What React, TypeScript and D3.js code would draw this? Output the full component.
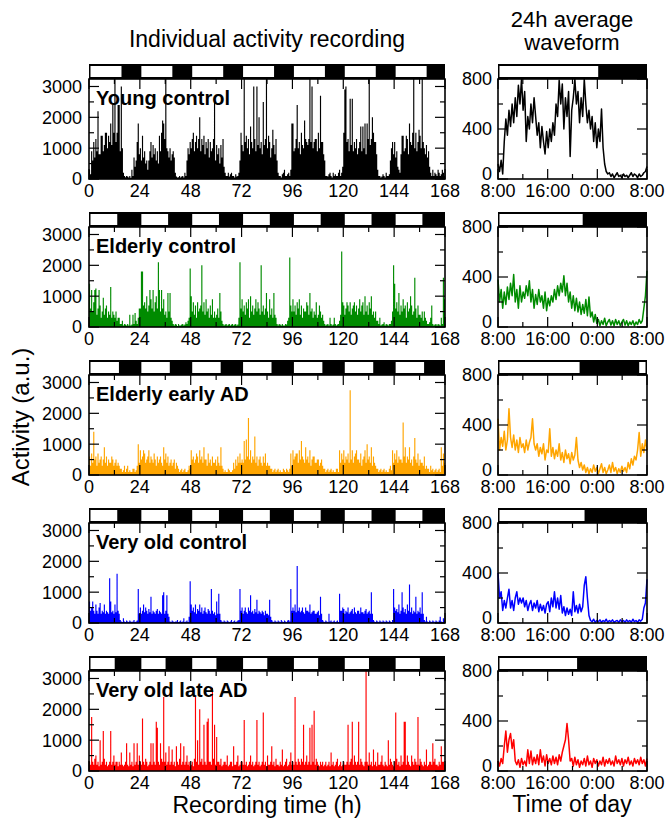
import React from "react";
import * as d3 from "d3";

const FONT = "'Liberation Sans', Arial, Helvetica, sans-serif";

const subjects = ["Young control", "Elderly control", "Elderly early AD", "Very old control", "Very old late AD"];
const seriesColors = ["#000000", "#008b00", "#ffa500", "#0000ff", "#ff0000"];

const recXTicks = [0, 24, 48, 72, 96, 120, 144, 168];
const recXMinor = [12, 36, 60, 84, 108, 132, 156];
const recYTicks = [0, 1000, 2000, 3000];
const recYMinor = [500, 1500, 2500];
const waveXTicks = [0, 8, 16, 24];
const waveXLabels = ["8:00", "16:00", "0:00", "8:00"];
const waveXMinor = [4, 12, 20];
const waveYTicks = [0, 400, 800];
const waveYMinor = [200, 600];

// hours after 8:00 when lights go off (recording bars / waveform bars)
const recLightsOff = [15.8, 13.8, 14.6, 13.8, 12.6];
const waveLightsOff = [16.3, 13.8, 13.3, 14.1, 12.9];
const waveLightsOn = [24, 24, 22.5, 24, 24];

// half-hour activity levels, 168 h recording
const youngRec = [
  300,150, 900,600, 1200,700, 1300,900, 2200,800, 800,1400, 1400,900, 1100,1500, 1500,1000, 1400,1200, 1800,1100, 2400,1500, 3250,1200, 1500,2400, 2400,900, 3000,1000, 200,100, 60,100, 80,50, 100,40, 300,100, 700,400, 600,1200, 1800,800,
  1000,600, 1400,700, 900,500, 600,300, 600,900, 1200,700, 1100,800, 1000,600, 900,500, 1400,900, 1500,1900, 1800,1300, 3250,1000, 900,700, 1000,600, 800,900, 700,200, 80,50, 60,100, 50,80, 100,50, 200,100, 600,1000, 800,1200,
  1000,1300, 1500,900, 1200,1400, 1000,1300, 2000,900, 1300,1100, 1400,800, 1200,1000, 1300,700, 1200,900, 1000,1300, 2500,600, 1100,800, 1000,500, 1100,700, 1300,400, 200,100, 100,200, 80,150, 200,100, 100,50, 150,80, 100,200, 600,1500,
  1100,900, 3250,1200, 1400,1000, 1300,800, 1700,1200, 1000,3000, 1300,900, 3000,1100, 2000,1000, 1200,800, 2500,1100, 1300,3250, 1000,1400, 1200,700, 1000,1600, 1100,800, 1300,600, 200,100, 100,50, 150,200, 300,100, 100,150, 200,100, 300,1800,
  1800,900, 1000,1300, 2400,1000, 1200,800, 1500,1100, 1000,1900, 1300,1200, 1100,1300, 3250,1200, 3000,1000, 1200,1300, 1300,900, 1500,1000, 2700,1200, 1200,800, 600,100, 100,80, 150,200, 100,50, 200,100, 150,100, 100,200, 300,100, 200,400,
  1500,2900, 3000,1200, 1300,900, 2600,1100, 2600,900, 1200,1000, 1300,800, 1000,1200, 1700,900, 1700,1000, 1800,800, 1800,1300, 3250,1100, 1300,2000, 1500,1200, 1200,800, 300,100, 100,50, 80,150, 100,50, 200,100, 100,150, 600,1000, 1200,800,
  1200,700, 900,400, 300,200, 800,1400, 1400,900, 1000,1400, 1300,800, 1800,1200, 1100,1500, 3250,1000, 1500,900, 1200,1600, 1400,1000, 3250,1200, 1000,800, 1100,700, 900,400, 200,100, 300,100, 200,150, 100,300, 200,100, 150,300, 200,100,
];

const elderlyRec = [
  1400,600, 1200,500, 800,1200, 1250,400, 600,1200, 700,300, 500,950, 400,600, 700,300, 500,400, 1300,300, 500,400, 300,500, 200,300, 300,100, 100,200, 50,100, 80,50, 100,50, 400,50, 80,400, 100,450, 200,100, 300,600,
  600,1800, 1800,700, 800,600, 1000,500, 700,1200, 900,600, 1200,500, 800,1000, 600,2100, 1200,500, 1200,600, 900,400, 500,300, 1100,500, 1100,300, 200,100, 50,100, 80,30, 100,50, 50,80, 100,50, 80,150, 100,200, 300,1900,
  1000,500, 800,400, 700,300, 800,500, 600,700, 2000,500, 800,400, 900,500, 600,300, 700,400, 900,300, 500,300, 400,600, 300,1100, 500,200, 100,50, 80,100, 50,80, 100,50, 80,100, 50,80, 100,50, 80,300, 2100,600,
  900,500, 700,400, 800,600, 900,300, 1000,500, 700,400, 600,900, 500,800, 600,400, 2000,500, 700,400, 600,1100, 500,300, 900,400, 600,300, 1100,400, 300,100, 50,100, 80,50, 100,50, 50,100, 80,200, 300,2250, 700,500,
  900,500, 700,400, 800,600, 900,400, 700,300, 600,500, 500,800, 700,400, 1100,500, 600,300, 500,400, 800,300, 400,700, 500,300, 400,200, 100,50, 80,100, 50,300, 100,50, 80,300, 100,50, 80,100, 200,400, 2450,800,
  700,400, 600,800, 700,500, 800,400, 600,700, 800,500, 700,400, 600,900, 500,700, 800,400, 1000,500, 700,400, 800,600, 1000,400, 500,300, 500,200, 200,100, 300,50, 80,100, 150,50, 100,80, 50,100, 100,200, 500,2000,
  1400,600, 800,500, 1100,400, 700,500, 900,600, 700,300, 800,500, 600,1000, 700,400, 500,1600, 600,300, 700,400, 400,300, 500,200, 500,300, 200,100, 100,150, 300,700, 100,50, 80,100, 50,100, 80,50, 300,100, 1600,900,
];

const earlyADRec = [
  600,300, 700,400, 1400,500, 600,300, 700,400, 500,600, 300,500, 900,400, 600,300, 500,400, 400,600, 500,300, 400,500, 300,400, 300,200, 200,100, 150,300, 100,200, 300,100, 150,100, 100,200, 200,100, 150,300, 1000,400,
  800,500, 600,800, 700,400, 500,600, 800,400, 600,500, 400,700, 500,300, 600,400, 500,600, 400,300, 900,500, 700,400, 600,300, 400,500, 300,400, 500,200, 400,300, 200,100, 150,200, 100,150, 200,100, 100,150, 300,200,
  800,500, 600,400, 500,700, 600,400, 800,500, 600,400, 900,500, 500,300, 700,400, 500,300, 600,400, 400,500, 300,600, 400,300, 900,300, 200,100, 150,100, 100,200, 150,100, 100,150, 400,200, 500,300, 600,400, 700,400,
  500,400, 1100,500, 1150,600, 1850,500, 800,400, 600,500, 1250,400, 600,300, 500,600, 400,300, 600,400, 700,300, 400,300, 300,200, 200,100, 150,200, 100,150, 200,100, 150,100, 100,200, 150,100, 200,150, 100,200, 700,300,
  800,500, 600,700, 700,400, 800,500, 1100,600, 500,400, 900,500, 600,400, 800,300, 500,600, 600,400, 400,500, 500,300, 400,500, 300,200, 200,100, 150,200, 100,150, 200,100, 150,100, 100,200, 200,100, 800,400, 700,500,
  800,400, 600,500, 700,400, 2750,500, 800,400, 600,700, 800,500, 500,400, 700,300, 500,600, 800,400, 1000,500, 600,400, 900,300, 600,400, 300,200, 200,100, 150,200, 100,150, 200,100, 150,100, 100,200, 300,150, 800,400,
  700,500, 800,400, 600,500, 500,400, 1700,600, 900,400, 600,500, 900,400, 500,300, 600,1200, 500,400, 700,300, 500,400, 400,300, 600,200, 300,200, 200,100, 300,150, 200,100, 150,200, 100,150, 200,100, 900,300, 700,400,
];

const veryOldRec = [
  700,400, 500,700, 400,300, 600,400, 300,500, 650,300, 400,350, 600,300, 400,350, 300,1450, 700,350, 400,300, 600,350, 1600,400, 300,100, 50,30, 150,50, 30,80, 50,30, 80,50, 30,50, 100,30, 50,80, 1100,300,
  500,300, 400,600, 350,500, 400,300, 450,350, 850,300, 400,350, 300,400, 450,300, 400,350, 300,900, 1000,300, 400,900, 300,200, 50,30, 80,50, 30,50, 50,100, 30,50, 80,30, 50,150, 30,50, 80,30, 200,1350,
  600,400, 500,350, 600,300, 450,400, 600,350, 500,300, 400,500, 350,300, 450,400, 300,1100, 400,300, 350,250, 700,300, 950,300, 100,50, 30,80, 50,30, 80,50, 30,50, 100,30, 50,80, 30,50, 80,100, 1100,400,
  500,300, 400,500, 350,300, 500,400, 900,350, 400,300, 450,350, 750,300, 400,350, 300,400, 350,250, 400,300, 300,250, 750,200, 100,50, 30,80, 50,30, 80,50, 30,100, 50,30, 80,50, 30,80, 100,50, 1100,400,
  500,400, 600,350, 1850,400, 500,350, 400,500, 350,300, 500,400, 400,350, 600,300, 350,400, 400,300, 300,350, 400,250, 850,300, 100,50, 30,80, 50,30, 300,50, 80,30, 50,80, 30,50, 80,30, 950,400, 400,500,
  450,300, 400,350, 500,300, 350,400, 450,300, 500,350, 300,400, 400,300, 500,350, 350,300, 400,450, 300,350, 400,300, 1000,300, 100,50, 30,80, 50,30, 80,50, 30,80, 50,30, 80,50, 30,80, 50,30, 100,1100,
  500,400, 450,350, 600,300, 400,1000, 500,350, 450,300, 600,400, 1250,350, 500,300, 400,350, 850,300, 400,350, 500,300, 1000,300, 100,50, 200,50, 30,80, 50,30, 80,50, 30,80, 50,30, 80,200, 50,30, 150,80,
];

const lateADRec = [
  300,200, 1750,300, 200,400, 500,200, 300,150, 1000,200, 300,1300, 400,200, 300,150, 200,300, 1300,200, 300,500, 200,300, 300,150, 300,200, 600,200, 150,200, 300,900, 200,150, 600,200, 300,150, 900,200, 300,900, 200,500,
  300,200, 1700,300, 200,400, 300,150, 200,300, 900,200, 900,300, 200,1600, 1400,300, 200,900, 400,300, 2400,300, 600,200, 300,800, 200,300, 700,200, 300,150, 800,300, 200,400, 900,200, 300,800, 200,300, 500,200, 300,150,
  200,300, 150,400, 2400,300, 1000,200, 2000,300, 400,200, 1500,300, 200,1600, 1700,300, 300,200, 2700,400, 1500,200, 1100,300, 300,200, 400,150, 200,300, 300,200, 500,150, 200,300, 300,150, 800,200, 200,300, 500,150, 200,300,
  300,200, 1650,200, 300,150, 200,300, 500,200, 300,150, 200,300, 1650,200, 300,150, 200,300, 1900,200, 300,150, 500,200, 200,300, 800,200, 300,150, 400,200, 200,150, 300,200, 700,150, 200,300, 400,150, 200,300, 600,200,
  300,200, 2400,300, 200,400, 300,200, 400,300, 1500,200, 300,500, 200,300, 1400,200, 1500,300, 1950,200, 400,300, 200,150, 300,200, 300,150, 200,300, 150,200, 300,150, 600,200, 300,150, 200,300, 400,150, 200,300, 150,200,
  300,200, 200,300, 1500,200, 300,400, 1600,200, 500,300, 200,300, 1600,200, 400,300, 200,150, 300,3250, 300,200, 600,200, 300,150, 700,200, 300,150, 600,200, 200,300, 500,200, 150,300, 200,150, 1000,200, 400,300, 200,150,
  300,1900, 400,200, 300,150, 500,200, 300,1600, 1600,200, 500,300, 200,150, 500,300, 200,400, 300,200, 1750,200, 400,300, 200,150, 300,200, 700,150, 200,300, 300,200, 900,300, 400,200, 200,150, 300,200, 800,300, 300,200,
];

// quarter-hour 24 h average waveforms, starting 8:00
const youngWave = [
  120,60,150,40, 300,480,350,550, 420,600,450,650, 500,750,600,800, 550,700,300,500, 400,600,450,650,
  500,350,450,250, 420,300,200,380, 250,400,300,450, 350,600,500,790, 600,760,400,650, 500,700,180,550,
  650,800,600,700, 450,650,500,800, 600,450,550,400, 500,300,450,250, 400,300,560,250, 120,60,40,50,
  20,40,10,30, 50,20,30,10, 40,20,30,10, 30,50,20,40, 30,10,40,20, 30,50,60,100,
];
const elderlyWave = [
  380,200,300,150, 280,180,320,220, 350,250,420,200, 300,150,330,200, 280,230,330,250, 370,200,300,150,
  260,180,300,200, 250,150,280,130, 230,170,250,200, 300,220,330,250, 350,280,410,250, 350,200,280,150,
  250,130,230,120, 200,100,180,110, 220,90,240,80, 120,40,100,30, 60,10,50,20, 70,10,40,60,
  15,50,10,60, 20,50,10,40, 60,15,50,10, 40,20,50,10, 40,20,60,30, 50,150,250,450,
];
const earlyADWave = [
  450,200,300,230, 350,200,280,530, 300,220,320,200, 280,180,300,220, 250,180,280,200, 260,300,450,250,
  200,250,150,220, 170,250,120,200, 180,370,150,220, 130,200,150,250, 120,180,100,200, 130,170,90,180,
  120,160,300,120, 60,100,40,80, 20,60,10,50, 20,80,30,60, 10,50,90,20, 60,10,40,80,
  20,100,30,60, 10,50,20,70, 30,60,20,100, 50,130,80,150, 120,200,340,150, 250,180,280,200,
];
const veryOldWave = [
  400,200,250,100, 180,120,200,270, 120,180,100,200, 250,150,200,160, 200,130,180,100, 150,180,100,160,
  120,180,90,150, 100,140,80,150, 170,90,200,130, 250,120,200,110, 220,80,130,60, 120,70,110,60,
  250,90,140,80, 150,90,130,300, 370,200,60,20, 10,30,5,20, 10,25,5,20, 10,30,5,20,
  10,25,5,15, 20,5,25,10, 20,5,25,10, 20,5,30,10, 20,5,25,15, 30,120,160,350,
];
const lateADWave = [
  80,40,100,60, 200,320,150,250, 300,180,250,80, 50,90,30,100, 50,80,40,170, 60,160,50,110,
  60,130,50,170, 70,120,40,130, 60,100,50,120, 60,110,50,130, 80,150,200,250, 380,250,80,100,
  40,110,50,90, 30,80,50,100, 40,120,50,80, 30,100,60,90, 40,80,50,110, 40,90,60,100,
  50,80,40,120, 60,90,50,100, 40,90,60,110, 50,80,40,100, 60,90,50,110, 60,90,40,100,
];

const recSeries = [youngRec, elderlyRec, earlyADRec, veryOldRec, lateADRec];
const waveSeries = [youngWave, elderlyWave, earlyADWave, veryOldWave, lateADWave];

const LX0 = 89, LX1 = 445, RX0 = 498, RX1 = 647;
const TOP0 = 64, STEP = 148, BAR_H = 15, PLOT_H = 100;
const REC_MAX = 3243;

export default function App() {
  const xRec = d3.scaleLinear().domain([0, 168]).range([LX0, LX1]);
  const xWave = d3.scaleLinear().domain([0, 24]).range([RX0, RX1]);
  const major = 10, minor = 5;

  return (
    <svg width={665} height={821} style={{ position: "absolute", left: 0, top: 0, background: "#fff" }} fontFamily={FONT}>
      <text x={267} y={47} fontSize={23} textAnchor="middle">Individual activity recording</text>
      <text x={572} y={27} fontSize={22} textAnchor="middle">24h average</text>
      <text x={572} y={50} fontSize={22} textAnchor="middle">waveform</text>

      {subjects.map((name, i) => {
        const barTop = TOP0 + STEP * i;
        const pTop = barTop + BAR_H;
        const pBot = pTop + PLOT_H;
        const yRec = d3.scaleLinear().domain([0, REC_MAX]).range([pBot, pTop]);
        const yWave = d3.scaleLinear().domain([0, 800]).range([pBot, pTop]);
        const rec = recSeries[i];
        const dt = 168 / rec.length;
        const spikes = rec
          .map((v, k) => `M${xRec(k * dt + dt / 2).toFixed(2)},${yRec(0)}V${yRec(Math.min(v, REC_MAX)).toFixed(2)}`)
          .join("");
        const wave = waveSeries[i];
        const wline = d3
          .line<number>()
          .x((_, k) => xWave((k * 24) / (wave.length - 1)))
          .y((d) => yWave(d))(wave) as string;
        const color = seriesColors[i];
        const days = d3.range(7);
        const waveWhites: [number, number][] = [[0, waveLightsOff[i]]];
        if (waveLightsOn[i] < 24) waveWhites.push([waveLightsOn[i], 24]);

        return (
          <g key={name}>
            {/* light/dark bar, recording */}
            <rect x={LX0} y={barTop} width={LX1 - LX0} height={BAR_H} fill="#000" />
            {days.map((d) => {
              const a = xRec(d * 24) + 1.5;
              const b = xRec(d * 24 + recLightsOff[i]) - 1;
              return <rect key={d} x={a} y={barTop + 2} width={b - a} height={BAR_H - 4} fill="#fff" />;
            })}
            {/* light/dark bar, waveform */}
            <rect x={RX0} y={barTop} width={RX1 - RX0} height={BAR_H} fill="#000" />
            {waveWhites.map(([s, e], k) => {
              const a = xWave(s) + 1.5;
              const b = xWave(e) - (e >= 24 ? 1.5 : 1);
              return <rect key={k} x={a} y={barTop + 2} width={b - a} height={BAR_H - 4} fill="#fff" />;
            })}

            {/* data */}
            <path d={spikes} stroke={color} strokeWidth={1.15} fill="none" />
            <path d={wline} stroke={color} strokeWidth={1.5} fill="none" strokeLinejoin="round" />

            {/* recording ticks */}
            {recYTicks.map((t) => (
              <g key={"ry" + t}>
                <line x1={LX0} x2={LX0 + major} y1={yRec(t)} y2={yRec(t)} stroke="#000" strokeWidth={1.2} />
                <line x1={LX1 - major} x2={LX1} y1={yRec(t)} y2={yRec(t)} stroke="#000" strokeWidth={1.2} />
                <text x={LX0 - 7} y={yRec(t)} dy="0.36em" fontSize={18} textAnchor="end">{t}</text>
              </g>
            ))}
            {recYMinor.map((t) => (
              <g key={"rym" + t}>
                <line x1={LX0} x2={LX0 + minor} y1={yRec(t)} y2={yRec(t)} stroke="#000" strokeWidth={1.2} />
                <line x1={LX1 - minor} x2={LX1} y1={yRec(t)} y2={yRec(t)} stroke="#000" strokeWidth={1.2} />
              </g>
            ))}
            {recXTicks.map((t) => (
              <g key={"rx" + t}>
                <line x1={xRec(t)} x2={xRec(t)} y1={pBot} y2={pBot - major} stroke="#000" strokeWidth={1.2} />
                <line x1={xRec(t)} x2={xRec(t)} y1={pTop} y2={pTop + major} stroke="#000" strokeWidth={1.2} />
                <text x={xRec(t)} y={pBot + 18} fontSize={18} textAnchor="middle">{t}</text>
              </g>
            ))}
            {recXMinor.map((t) => (
              <g key={"rxm" + t}>
                <line x1={xRec(t)} x2={xRec(t)} y1={pBot} y2={pBot - minor} stroke="#000" strokeWidth={1.2} />
                <line x1={xRec(t)} x2={xRec(t)} y1={pTop} y2={pTop + minor} stroke="#000" strokeWidth={1.2} />
              </g>
            ))}

            {/* waveform ticks */}
            {waveYTicks.map((t) => (
              <g key={"wy" + t}>
                <line x1={RX0} x2={RX0 + major} y1={yWave(t)} y2={yWave(t)} stroke="#000" strokeWidth={1.2} />
                <line x1={RX1 - major} x2={RX1} y1={yWave(t)} y2={yWave(t)} stroke="#000" strokeWidth={1.2} />
                <text x={RX0 - 6} y={yWave(t) - (t === 0 ? 5 : 0)} dy="0.36em" fontSize={18} textAnchor="end">{t}</text>
              </g>
            ))}
            {waveYMinor.map((t) => (
              <g key={"wym" + t}>
                <line x1={RX0} x2={RX0 + minor} y1={yWave(t)} y2={yWave(t)} stroke="#000" strokeWidth={1.2} />
                <line x1={RX1 - minor} x2={RX1} y1={yWave(t)} y2={yWave(t)} stroke="#000" strokeWidth={1.2} />
              </g>
            ))}
            {waveXTicks.map((t, k) => (
              <g key={"wx" + t}>
                <line x1={xWave(t)} x2={xWave(t)} y1={pBot} y2={pBot - major} stroke="#000" strokeWidth={1.2} />
                <line x1={xWave(t)} x2={xWave(t)} y1={pTop} y2={pTop + major} stroke="#000" strokeWidth={1.2} />
                <text x={xWave(t)} y={pBot + 18} fontSize={18} textAnchor="middle">{waveXLabels[k]}</text>
              </g>
            ))}
            {waveXMinor.map((t) => (
              <g key={"wxm" + t}>
                <line x1={xWave(t)} x2={xWave(t)} y1={pBot} y2={pBot - minor} stroke="#000" strokeWidth={1.2} />
                <line x1={xWave(t)} x2={xWave(t)} y1={pTop} y2={pTop + minor} stroke="#000" strokeWidth={1.2} />
              </g>
            ))}

            {/* frames */}
            <rect x={LX0} y={pTop} width={LX1 - LX0} height={PLOT_H} fill="none" stroke="#000" strokeWidth={1.6} />
            <rect x={RX0} y={pTop} width={RX1 - RX0} height={PLOT_H} fill="none" stroke="#000" strokeWidth={1.6} />

            <text x={96} y={pTop + 26} fontSize={20} fontWeight="bold">{name}</text>
          </g>
        );
      })}

      <text x={267} y={813} fontSize={23} textAnchor="middle">Recording time (h)</text>
      <text x={572} y={812} fontSize={23} textAnchor="middle">Time of day</text>
      <text transform="translate(29,417) rotate(-90)" fontSize={24} textAnchor="middle">Activity (a.u.)</text>
    </svg>
  );
}
